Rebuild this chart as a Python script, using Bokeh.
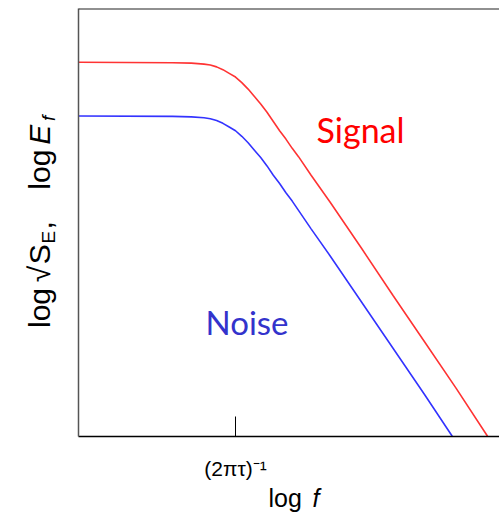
import math
from bokeh.plotting import figure
from bokeh.models import Range1d, FixedTicker, Label, Span
from bokeh.layouts import row, column
from bokeh.embed import file_html
from bokeh.resources import INLINE

# Data: x = log f (decades, 0 at the corner (2πτ)^-1), y = log amplitude
signal_x = [-2.49, -1.0, -0.7, -0.5, -0.4, -0.3, -0.2, -0.1, 0.0, 0.1, 0.2, 0.3, 0.4, 0.5,
            0.6, 0.7, 0.8, 0.9, 1.0, 1.2, 1.5, 2.0, 2.5, 3.0, 3.5, 4.0]
signal_y = [0.0, -0.005, -0.01, -0.02, -0.03, -0.05, -0.08, -0.12, -0.16, -0.22, -0.29, -0.37,
            -0.45, -0.54, -0.64, -0.74, -0.83, -0.93, -1.02, -1.22, -1.51, -2.01, -2.52, -3.02,
            -3.52, -4.04]
noise_x = [-2.49, -1.0, -0.7, -0.5, -0.4, -0.3, -0.2, -0.1, 0.0, 0.1, 0.2, 0.3, 0.4, 0.5,
           0.6, 0.7, 0.8, 0.9, 1.0, 1.2, 1.5, 2.0, 2.5, 3.0, 3.44]
noise_y = [-0.58, -0.585, -0.59, -0.60, -0.61, -0.63, -0.66, -0.70, -0.74, -0.80, -0.87, -0.95,
           -1.03, -1.12, -1.22, -1.31, -1.41, -1.50, -1.60, -1.80, -2.09, -2.59, -3.09, -3.59,
           -4.04]
tick_pos = [0]
tick_labels = {0: "(2πτ)⁻¹"}

FONT = "Liberation Sans"

# ---------------- main plot ----------------
p = figure(width=429, height=482, output_backend="svg", toolbar_location=None,
           x_range=Range1d(-2.492, 4.190), y_range=Range1d(-4.043, 0.5806),
           min_border_left=8, min_border_right=0, min_border_top=8, min_border_bottom=44)
p.outline_line_color = None
p.xgrid.visible = False
p.ygrid.visible = False
p.background_fill_color = "white"
p.border_fill_color = "white"

p.line(signal_x, signal_y, line_color="#ff3333", line_width=1.6)
p.line(noise_x, noise_y, line_color="#3333ff", line_width=1.6)

xa = p.xaxis[0]
xa.ticker = FixedTicker(ticks=tick_pos)
xa.major_label_overrides = tick_labels
xa.major_tick_in = 20
xa.major_tick_out = 0
xa.minor_tick_line_color = None
xa.major_tick_line_color = "black"
xa.axis_line_color = "black"
xa.axis_line_width = 1.5
xa.major_label_text_font = FONT
xa.major_label_text_font_size = "21px"
xa.major_label_text_color = "black"
xa.major_label_standoff = 20

ya = p.yaxis[0]
ya.ticker = FixedTicker(ticks=[])
ya.major_tick_line_color = None
ya.minor_tick_line_color = None
ya.major_label_text_font_size = "0px"
ya.axis_line_color = "#555555"
ya.axis_line_width = 1.5

p.add_layout(Span(location=0.5806, dimension="width", line_color="#222222", line_width=2))


def px(xp):
    return (xp - 235) / 63.0


def py(yp):
    return (62 - yp) / 93.0


def lab(fig, x, y, text, size, color="black", font=FONT, style="normal", angle=0.0):
    fig.add_layout(Label(x=x, y=y, text=text, text_font_size=size, text_color=color,
                         text_font=font, text_font_style=style, angle=angle,
                         text_baseline="alphabetic", text_align="left"))


lab(p, px(316), py(130), "Signal", "34px", color="#ff0000", font="Lato")
lab(p, px(205), py(323), "Noise", "33px", color="#3333cc", font="Lato")

# ---------------- y label panel (frame aligned with the main frame: page y 8..438) ----------------
yl = figure(width=70, height=482, output_backend="svg", toolbar_location=None,
            x_range=Range1d(0, 70), y_range=Range1d(438, 8),
            x_axis_type=None, y_axis_type=None,
            min_border_left=0, min_border_right=0, min_border_top=8, min_border_bottom=44)
yl.outline_line_color = None
yl.grid.visible = False
yl.background_fill_color = "white"
yl.border_fill_color = "white"

A = math.pi / 2
lab(yl, 39, 329, "log", "30px", angle=A)
lab(yl, 39, 283, "√", "30px", angle=A)
lab(yl, 39, 265, "S", "30px", angle=A)
lab(yl, 48, 244, "E", "19px", angle=A)
lab(yl, 41, 230, ",", "30px", angle=A)
lab(yl, 39, 190, "log", "30px", angle=A)
lab(yl, 39, 145, "E", "30px", style="italic", angle=A)
lab(yl, 48, 121, "f", "19px", style="italic", angle=A)

# ---------------- x label panel (page y 482..516) ----------------
xl = figure(width=499, height=34, output_backend="svg", toolbar_location=None,
            x_range=Range1d(0, 499), y_range=Range1d(516, 482),
            x_axis_type=None, y_axis_type=None,
            min_border_left=0, min_border_right=0, min_border_top=0, min_border_bottom=0)
xl.outline_line_color = None
xl.grid.visible = False
xl.background_fill_color = "white"
xl.border_fill_color = "white"

lab(xl, 268, 497, "log", "25px")
lab(xl, 312, 497, "f", "25px", style="italic")

layout = column(row(yl, p, spacing=0), xl, spacing=0)

open("out.html", "w").write(file_html(layout, INLINE))
